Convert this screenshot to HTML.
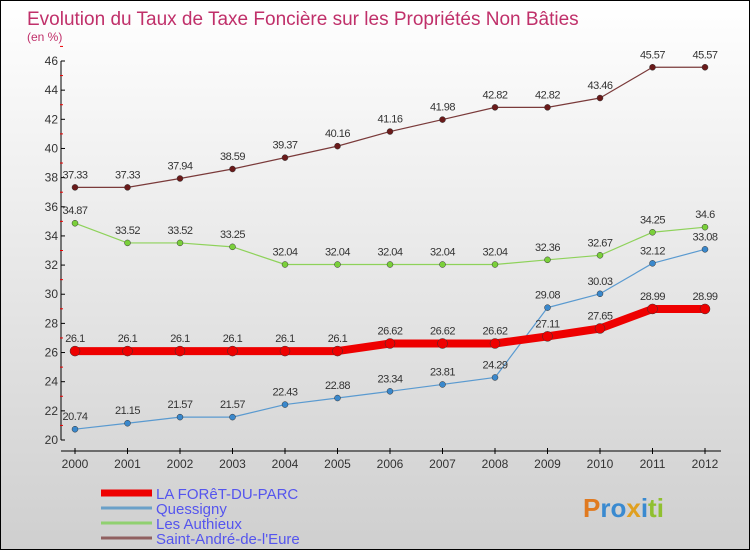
<!DOCTYPE html>
<html><head><meta charset="utf-8"><style>
html,body{margin:0;padding:0}
body{width:750px;height:550px;overflow:hidden;font-family:"Liberation Sans",sans-serif}
#wrap{position:relative;width:748px;height:548px;border:1px solid #000;background:linear-gradient(#ffffff,#cfcfcf)}
</style></head><body>
<div id="wrap">
<svg id="chart" width="748" height="548" style="position:absolute;left:0;top:0"></svg>
</div>
<script>
const years=["2000","2001","2002","2003","2004","2005","2006","2007","2008","2009","2010","2011","2012"];
const yTicks=[20,22,24,26,28,30,32,34,36,38,40,42,44,46];
const foret=[26.1,26.1,26.1,26.1,26.1,26.1,26.62,26.62,26.62,27.11,27.65,28.99,28.99];
const quessigny=[20.74,21.15,21.57,21.57,22.43,22.88,23.34,23.81,24.29,29.08,30.03,32.12,33.08];
const authieux=[34.87,33.52,33.52,33.25,32.04,32.04,32.04,32.04,32.04,32.36,32.67,34.25,34.6];
const standre=[37.33,37.33,37.94,38.59,39.37,40.16,41.16,41.98,42.82,42.82,43.46,45.57,45.57];
const seriesNames=["LA FORêT-DU-PARC","Quessigny","Les Authieux","Saint-André-de-l'Eure"];
const NS="http://www.w3.org/2000/svg";
const svg=document.getElementById('chart');
const X=i=>74+i*52.5;
const Y=v=>439-(v-20)*(379/26);
function mk(t,a,p){const e=document.createElementNS(NS,t);for(const k in a)e.setAttribute(k,a[k]);(p||svg).appendChild(e);return e;}
let t=mk('text',{x:26,y:24,fill:'#c0306a','font-size':19});t.textContent='Evolution du Taux de Taxe Foncière sur les Propriétés Non Bâties';

t=mk('text',{x:26,y:40,fill:'#c0306a','font-size':12});t.textContent='(en %)';

// axes
let ax=mk('line',{x1:60,y1:Y(46),x2:60,y2:Y(20),stroke:'#000','stroke-width':1});

ax=mk('line',{x1:60,y1:450,x2:720,y2:450,stroke:'#000','stroke-width':1});

yTicks.forEach(v=>{mk('line',{x1:60,y1:Y(v),x2:64,y2:Y(v),stroke:'#000'});
 mk('line',{x1:59,y1:Y(v+1),x2:62,y2:Y(v+1),stroke:'#e00'});
 const l=mk('text',{x:57,y:Y(v)+4,'text-anchor':'end','font-size':12,fill:'#333'});l.textContent=v;
 });
years.forEach((y,i)=>{mk('line',{x1:X(i),y1:447,x2:X(i),y2:453,stroke:'#000'});
 const l=mk('text',{x:X(i),y:467,'text-anchor':'middle','font-size':12,fill:'#333'});l.textContent=y;
 });
function series(data,color,w,r,dot,name,lab){
 const g=mk('g',{});
 mk('polyline',{points:data.map((v,i)=>X(i)+','+Y(v)).join(' '),fill:'none',stroke:color,'stroke-width':w,'stroke-linejoin':'round'},g);
 data.forEach((v,i)=>{const c=mk('circle',{cx:X(i),cy:Y(v),r:r,fill:dot,stroke:'#333','stroke-width':0.5},g);
  
  const l=mk('text',{x:X(i),y:Y(v)-9,'text-anchor':'middle','font-size':11,fill:'#333','letter-spacing':'-0.5'},g);l.textContent=lab?String(v):v;});
}
series(standre,'#7a3a3a',1.2,3,'#6a1a1a','series-saint-andre');
series(authieux,'#8ed25a',1.2,3,'#7ad03a','series-les-authieux');
series(quessigny,'#5a9ad0',1.2,3,'#3a88cc','series-quessigny');
series(foret,'#ee0000',8,5,'#ee0000','series-la-foret-du-parc');
const lc=['#ee0000','#6aa0c8','#90d070','#906060'],lw=[7,3,3,3];
seriesNames.forEach((n,i)=>{const y=492+i*15;
 const g=mk('g',{});
 mk('line',{x1:100,y1:y,x2:151,y2:y,stroke:lc[i],'stroke-width':lw[i]},g);
 const l=mk('text',{x:155,y:y+6,'font-size':15,fill:'#5555ee'},g);l.textContent=n;});
const p=mk('text',{x:582,y:516,'font-size':26,'font-weight':'bold',fill:'#3a8ad0'});
p.innerHTML='<tspan fill="#e07a20">P</tspan><tspan fill="#3a8ad0">ro</tspan><tspan fill="#e0a020">x</tspan><tspan fill="#3a8ad0">i</tspan><tspan fill="#90c030">ti</tspan>';

</script>
</body></html>
